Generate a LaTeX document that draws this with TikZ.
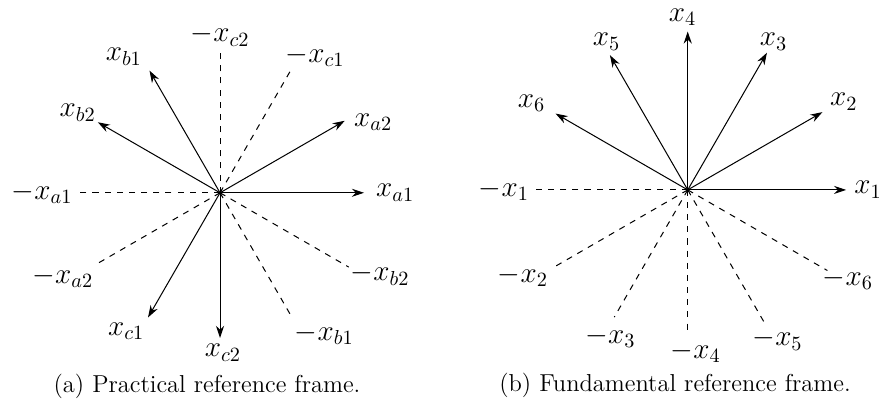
\documentclass[tikz,border=0pt]{standalone}
\usepackage{tikz}
\usetikzlibrary{arrows.meta}

\begin{document}
\begin{tikzpicture}[
  vec/.style={-{Stealth[length=6pt,width=4pt]}, line width=0.5pt},
  neg/.style={dashed, line width=0.5pt},
  lbl/.style={inner sep=0pt, font=\fontsize{14}{16}\selectfont},
  capt/.style={inner sep=0pt, font=\fontsize{12.1}{14}\selectfont}
]
\useasboundingbox (0,0) rectangle (15.382,6.997);

% (a) practical frame
\begin{scope}[shift={(3.82,3.65)}]
\coordinate (oa) at (0,0);
\coordinate (xa1) at (0:2.5);
\coordinate (xa2) at (30:2.5);
\coordinate (xb1) at (120:2.45);
\coordinate (xb2) at (150:2.45);
\coordinate (xc1) at (240:2.5);
\coordinate (xc2) at (270:2.52);
\coordinate (nxa1) at (180:2.5);
\coordinate (nxa2) at (210:2.5);
\coordinate (nxb1) at (300:2.52);
\coordinate (nxb2) at (330:2.58);
\coordinate (nxc1) at (60:2.5);
\coordinate (nxc2) at (90:2.48);

\draw[vec] (oa) -- (xa1);
\draw[vec] (oa) -- (xa2);
\draw[vec] (oa) -- (xb1);
\draw[vec] (oa) -- (xb2);
\draw[vec] (oa) -- (xc1);
\draw[vec] (oa) -- (xc2);
\draw[neg] (oa) -- (nxa1);
\draw[neg] (oa) -- (nxa2);
\draw[neg] (oa) -- (nxb1);
\draw[neg] (oa) -- (nxb2);
\draw[neg] (oa) -- (nxc1);
\draw[neg] (oa) -- (nxc2);

\node[lbl] (la1) at (3.04,0) {$x_{a1}$};
\node[lbl] (la2) at (2.66,1.23) {$x_{a2}$};
\node[lbl] (lb1) at (-1.67,2.36) {$x_{b1}$};
\node[lbl] (lb2) at (-2.47,1.39) {$x_{b2}$};
\node[lbl] (lc1) at (-1.63,-2.40) {$x_{c1}$};
\node[lbl] (lc2) at (0.05,-2.78) {$x_{c2}$};
\node[lbl] (lna1) at (-3.09,0) {$-x_{a1}$};
\node[lbl] (lna2) at (-2.73,-1.46) {$-x_{a2}$};
\node[lbl] (lnb1) at (1.81,-2.45) {$-x_{b1}$};
\node[lbl] (lnb2) at (2.78,-1.42) {$-x_{b2}$};
\node[lbl] (lnc1) at (1.65,2.38) {$-x_{c1}$};
\node[lbl] (lnc2) at (0,2.73) {$-x_{c2}$};
\end{scope}

% (b) fundamental frame
\begin{scope}[shift={(11.94,3.70)}]
\coordinate (ob) at (0,0);
\coordinate (x1) at (0:2.75);
\coordinate (x2) at (30:2.7);
\coordinate (x3) at (60:2.75);
\coordinate (x4) at (90:2.75);
\coordinate (x5) at (120:2.7);
\coordinate (x6) at (150:2.65);
\coordinate (nx1) at (180:2.65);
\coordinate (nx2) at (210:2.7);
\coordinate (nx3) at (240:2.55);
\coordinate (nx4) at (270:2.52);
\coordinate (nx5) at (300:2.7);
\coordinate (nx6) at (330:2.8);

\draw[vec] (ob) -- (x1);
\draw[vec] (ob) -- (x2);
\draw[vec] (ob) -- (x3);
\draw[vec] (ob) -- (x4);
\draw[vec] (ob) -- (x5);
\draw[vec] (ob) -- (x6);
\draw[neg] (ob) -- (nx1);
\draw[neg] (ob) -- (nx2);
\draw[neg] (ob) -- (nx3);
\draw[neg] (ob) -- (nx4);
\draw[neg] (ob) -- (nx5);
\draw[neg] (ob) -- (nx6);

\node[lbl] (l1) at (3.13,0) {$x_1$};
\node[lbl] (l2) at (2.71,1.53) {$x_2$};
\node[lbl] (l3) at (1.49,2.57) {$x_3$};
\node[lbl] (l4) at (-0.09,3.00) {$x_4$};
\node[lbl] (l5) at (-1.41,2.57) {$x_5$};
\node[lbl] (l6) at (-2.71,1.51) {$x_6$};
\node[lbl] (ln1) at (-3.19,0) {$-x_1$};
\node[lbl] (ln2) at (-2.86,-1.49) {$-x_2$};
\node[lbl] (ln3) at (-1.34,-2.55) {$-x_3$};
\node[lbl] (ln4) at (0.14,-2.81) {$-x_4$};
\node[lbl] (ln5) at (1.56,-2.60) {$-x_5$};
\node[lbl] (ln6) at (2.78,-1.55) {$-x_6$};
\end{scope}

\node[capt] (capa) at (3.594,0.295) {(a) Practical reference frame.};
\node[capt] (capb) at (11.719,0.31) {(b) Fundamental reference frame.};
\end{tikzpicture}
\end{document}
